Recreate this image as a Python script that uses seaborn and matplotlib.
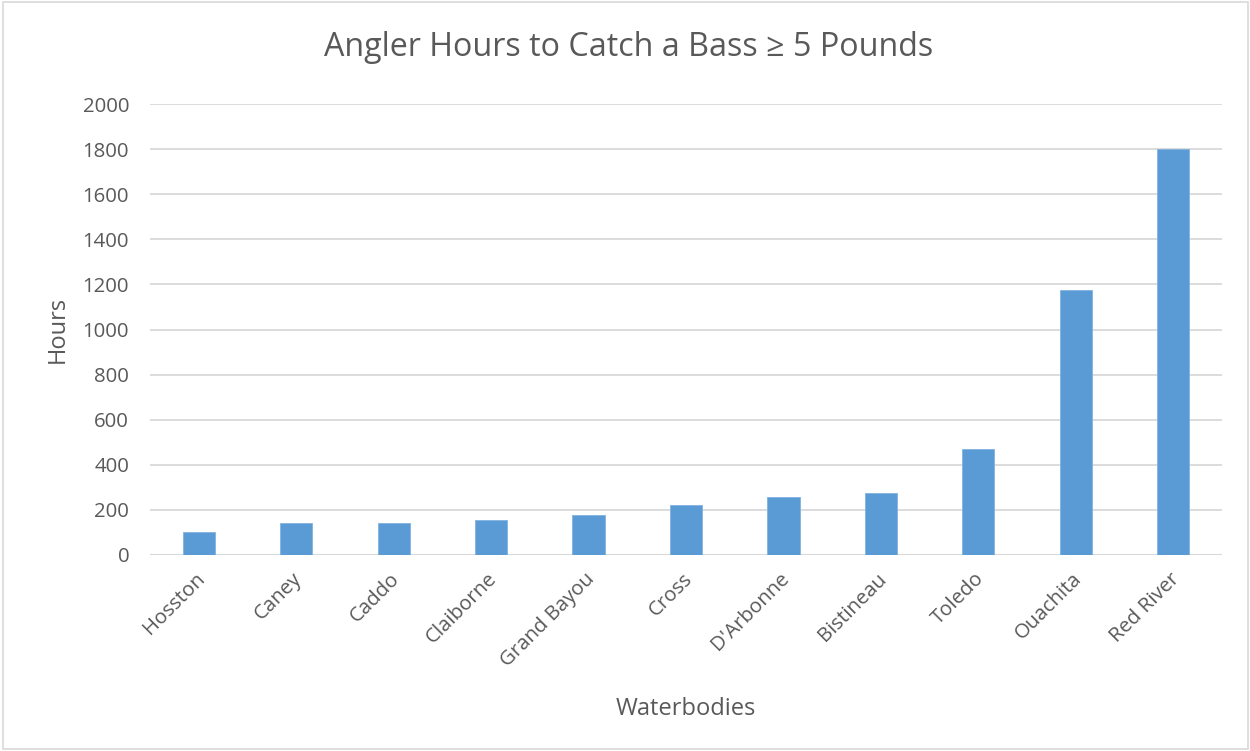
import matplotlib
matplotlib.use("Agg")
import matplotlib.pyplot as plt
import matplotlib.transforms as mtransforms
import seaborn as sns
import pandas as pd
from matplotlib.patches import Rectangle

waterbodies = ["Hosston", "Caney", "Caddo", "Claiborne", "Grand Bayou", "Cross",
               "D'Arbonne", "Bistineau", "Toledo", "Ouachita", "Red River"]
hours = [100, 141, 144, 156, 176, 222, 256, 276, 470, 1175, 1800]
yticks = [0, 200, 400, 600, 800, 1000, 1200, 1400, 1600, 1800, 2000]

sns.set_theme(style="white")
plt.rcParams['font.family'] = ['Open Sans', 'DejaVu Sans']

df = pd.DataFrame({"Waterbodies": waterbodies, "Hours": hours})

fig = plt.figure(figsize=(12.5, 7.51), dpi=100)
ax = fig.add_axes([150/1250, 1-555/751, (1222-150)/1250, (555-104)/751])

sns.barplot(data=df, x="Waterbodies", y="Hours", color="#5B9BD5", width=0.33,
            saturation=1, ax=ax, zorder=3, edgecolor="#7FB2E0", linewidth=0.6)

ax.set_ylim(0, 2000)
ax.set_xlim(-0.5, len(waterbodies) - 0.5)
ax.set_yticks(yticks)
ax.set_yticklabels([str(v) for v in yticks])
ax.grid(axis="y", color="#D9D9D9", linewidth=1.3, zorder=0)
ax.set_axisbelow(True)
for s in ax.spines.values():
    s.set_visible(False)
ax.axhline(0, color="#D9D9D9", linewidth=1.5, zorder=2)

txt = "#595959"
ax.tick_params(axis="both", length=0, labelsize=14.7, labelcolor=txt)
ax.tick_params(axis="y", pad=15)
ax.set_xticks(range(len(waterbodies)))
ax.set_xticklabels(waterbodies, rotation=45, ha="right", rotation_mode="anchor")
ax.tick_params(axis="x", pad=10)
offset = mtransforms.ScaledTranslation(-4/100, 0, fig.dpi_scale_trans)
for lab in ax.get_xticklabels():
    lab.set_transform(lab.get_transform() + offset)

ax.set_xlabel("Waterbodies", fontsize=17, color=txt, labelpad=19)
ax.set_ylabel("Hours", fontsize=17, color=txt, labelpad=9)
fig.text(629/1250, 1-48/751, "Angler Hours to Catch a Bass \u2265 5 Pounds",
         ha="center", va="center", fontsize=23.2, color=txt)

fig.patches.append(Rectangle((0.002, 0.002), 0.996, 0.996, transform=fig.transFigure,
                             fill=False, edgecolor="#D9D9D9", linewidth=1.2))

fig.savefig("out.png", dpi=100)
